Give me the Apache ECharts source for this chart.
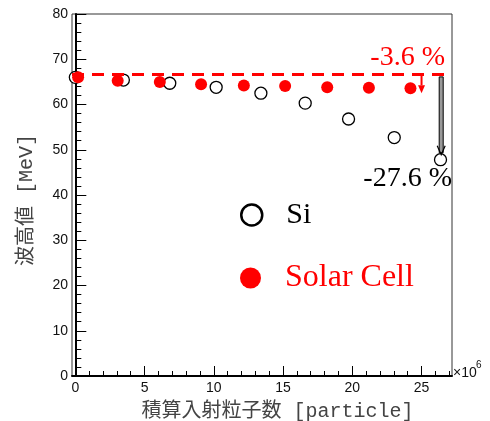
<!DOCTYPE html>
<html>
<head>
<meta charset="utf-8">
<script src="https://cdn.jsdelivr.net/npm/echarts@6/dist/echarts.min.js"></script>
<style>html,body{margin:0;padding:0;background:#fff}#c{width:490px;height:421px}</style>
</head>
<body>
<div id="c"></div>
<script>
// Data (x in units of 10^6 particles, y in MeV)
var siX = [0, 3.47, 6.82, 10.17, 13.4, 16.6, 19.73, 23.03, 26.37];
var siY = [66.0, 65.4, 64.7, 63.8, 62.5, 60.3, 56.8, 52.7, 47.8];
var solarX = [0.2, 3.06, 6.1, 9.08, 12.17, 15.15, 18.19, 21.2, 24.2];
var solarY = [66.0, 65.25, 64.97, 64.5, 64.2, 64.1, 63.8, 63.7, 63.6];
var refLevel = 66.6;
// arrows: [x, from, to]
var redArrow = [25.0, 66.3, 62.5];
var blackArrow = [26.42, 66.1, 48.9];
var xMajorTicks = [0, 5, 10, 15, 20, 25];
var xMinorTicks = [1,2,3,4,6,7,8,9,11,12,13,14,16,17,18,19,21,22,23,24,26,27];
var xAxisTitle = '積算入射粒子数 [particle]';
var yAxisTitle = '波高値 [MeV]';
var siLabel = 'Si';
var solarLabel = 'Solar Cell';
var redText = '-3.6 %';
var blackText = '-27.6 %';

function zip(a, b) { return a.map(function (v, i) { return [v, b[i]]; }); }

var chart = echarts.init(document.getElementById('c'), null, {renderer: 'canvas'});
var xMin = -0.24, xMax = 27.2;
var titleFont = "'Liberation Mono', 'Noto Sans CJK JP', monospace";
var serif = "'Liberation Serif', 'DejaVu Serif', serif";

var option = {
  animation: false,
  backgroundColor: '#fff',
  grid: { left: 72, right: 38, top: 14, bottom: 45, show: true, borderColor: '#333', borderWidth: 1, containLabel: false, outerBoundsMode: 'none' },
  xAxis: [{
    type: 'value', min: xMin, max: xMax,
    name: xAxisTitle, nameLocation: 'middle', nameGap: 26,
    nameTextStyle: { fontSize: 20, color: '#444', fontFamily: titleFont, padding: [0, 0, 0, 31] },
    axisLine: { show: true, lineStyle: { color: '#000', width: 2 } },
    axisTick: { show: true, inside: true, length: 10, customValues: xMajorTicks, lineStyle: { color: '#000', width: 1 } },
    axisLabel: { customValues: xMajorTicks, margin: 5, fontSize: 14, color: '#111', fontFamily: "'Liberation Sans', Arial, sans-serif" },
    splitLine: { show: false }
  }, {
    type: 'value', min: xMin, max: xMax, position: 'bottom',
    axisLine: { show: false },
    axisTick: { show: true, inside: true, length: 5, customValues: xMinorTicks, lineStyle: { color: '#000', width: 1 } },
    axisLabel: { show: false },
    splitLine: { show: false }
  }],
  yAxis: {
    type: 'value', min: 0, max: 80, interval: 10,
    name: yAxisTitle, nameLocation: 'middle', nameGap: 35,
    nameTextStyle: { fontSize: 20, color: '#444', fontFamily: titleFont, padding: [0, 10, 0, 0] },
    axisLine: { show: true, lineStyle: { color: '#000', width: 2 } },
    axisTick: { show: true, inside: true, length: 11, lineStyle: { color: '#000', width: 1 } },
    minorTick: { show: true, splitNumber: 5, length: 6, lineStyle: { color: '#000', width: 1 } },
    axisLabel: { margin: 4, fontSize: 14, color: '#111', fontFamily: "'Liberation Sans', Arial, sans-serif" },
    splitLine: { show: false }
  },
  legend: [{
    left: 235, top: 195, orient: 'vertical', selectedMode: false,
    itemWidth: 21, itemHeight: 21,
    data: [{ name: siLabel, icon: 'circle', itemStyle: { color: '#fff', borderColor: '#000', borderWidth: 2.5 } }],
    textStyle: { fontSize: 30, lineHeight: 30, color: '#000', fontFamily: serif, padding: [0, 0, 0, 19] }
  }, {
    left: 235, top: 257, orient: 'vertical', selectedMode: false,
    itemWidth: 21, itemHeight: 21,
    data: [{ name: solarLabel, icon: 'circle', itemStyle: { color: '#ff0000', borderWidth: 0 } }],
    textStyle: { fontSize: 32, lineHeight: 32, color: '#ff0000', fontFamily: serif, padding: [0, 0, 0, 19] }
  }],
  series: [{
    name: siLabel, type: 'scatter', symbol: 'circle', symbolSize: 12,
    itemStyle: { color: '#fff', borderColor: '#000', borderWidth: 1.3, opacity: 1 },
    data: zip(siX, siY), z: 3
  }, {
    name: solarLabel, type: 'scatter', symbol: 'circle', symbolSize: 12,
    itemStyle: { color: '#ff0000', opacity: 1 },
    data: zip(solarX, solarY), z: 4,
    markLine: {
      silent: true, symbol: ['none', 'none'], label: { show: false },
      lineStyle: { color: '#ff0000', width: 3, type: [12, 8] },
      data: [{ yAxis: refLevel }]
    }
  }, {
    name: 'redArrow', type: 'custom', z: 5, silent: true,
    data: [redArrow],
    renderItem: function (params, api) {
      var p0 = api.coord([api.value(0), api.value(1)]);
      var p1 = api.coord([api.value(0), api.value(2)]);
      var hl = 8, hw = 3.5;
      return { type: 'group', children: [
        { type: 'line', shape: { x1: p0[0], y1: p0[1], x2: p1[0], y2: p1[1] - hl }, style: { stroke: '#ff0000', lineWidth: 2 } },
        { type: 'polygon', shape: { points: [[p1[0] - hw, p1[1] - hl], [p1[0] + hw, p1[1] - hl], [p1[0], p1[1]]] }, style: { fill: '#ff0000' } }
      ]};
    }
  }, {
    name: 'blackArrow', type: 'custom', z: 5, silent: true,
    data: [blackArrow],
    renderItem: function (params, api) {
      var p0 = api.coord([api.value(0), api.value(1)]);
      var p1 = api.coord([api.value(0), api.value(2)]);
      var sw = 2, hw = 4, hl = 9;
      return { type: 'group', children: [
        { type: 'rect', shape: { x: p0[0] - sw, y: p0[1], width: 2 * sw, height: p1[1] - p0[1] - 2 }, style: { fill: '#999', stroke: '#000', lineWidth: 1 } },
        { type: 'polyline', shape: { points: [[p1[0] - hw, p1[1] - hl], [p1[0], p1[1]], [p1[0] + hw, p1[1] - hl]] }, style: { fill: null, stroke: '#000', lineWidth: 1.2 } }
      ]};
    }
  }],
  graphic: [
    { type: 'text', right: 490 - 445, top: 44, style: { text: redText, fontSize: 28, fill: '#ff0000', fontFamily: serif } },
    { type: 'text', right: 490 - 452, top: 165, style: { text: blackText, fontSize: 28, fill: '#000', fontFamily: serif } },
    { type: 'text', left: 453, top: 366, style: { text: '×10', fontSize: 14, fill: '#111', fontFamily: "'Liberation Sans', Arial, sans-serif" } },
    { type: 'text', left: 476, top: 360, style: { text: '6', fontSize: 10, fill: '#111', fontFamily: "'Liberation Sans', Arial, sans-serif" } }
  ]
};
chart.setOption(option);
</script>
</body>
</html>
